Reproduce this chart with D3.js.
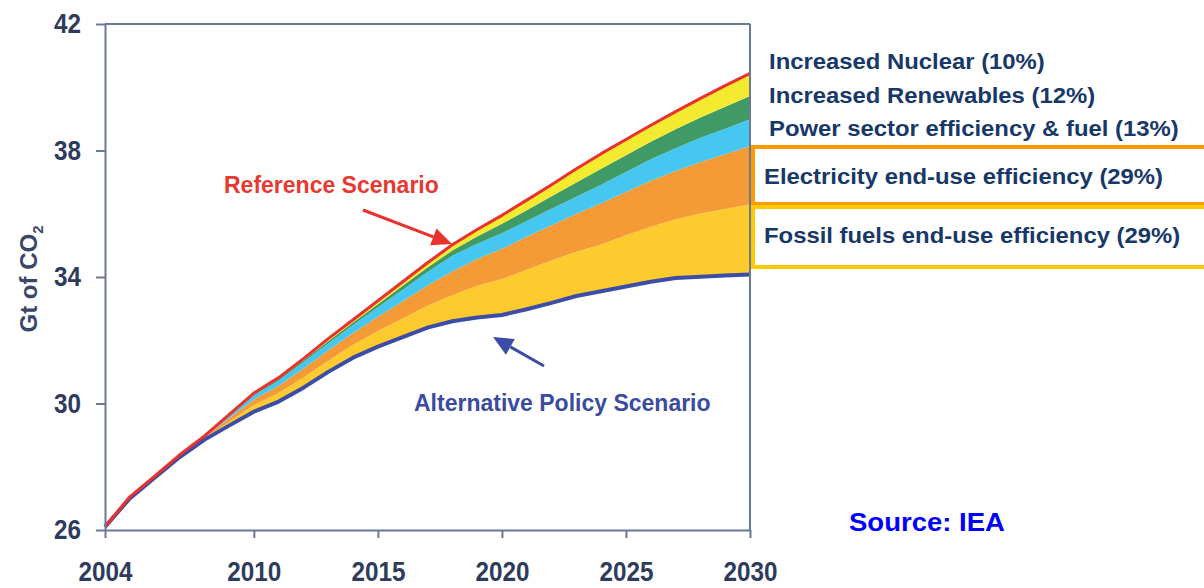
<!DOCTYPE html>
<html><head><meta charset="utf-8">
<script src="https://cdn.jsdelivr.net/npm/d3@7"></script>
<style>body{margin:0;background:#fff}</style>
</head><body>
<svg id="c" width="1204" height="588"></svg>
<script>
// ---- data (Gt CO2) ----
const years = [2004,2005,2006,2007,2008,2009,2010,2011,2012,2013,2014,2015,2016,2017,2018,2019,2020,2021,2022,2023,2024,2025,2026,2027,2028,2029,2030];
const referenceScenario = [26.1,27.05,27.7,28.37,28.97,29.65,30.33,30.82,31.42,32.05,32.65,33.25,33.85,34.45,35.02,35.5,35.95,36.43,36.92,37.42,37.9,38.35,38.8,39.23,39.65,40.05,40.44];
// savings wedges (reduction versus reference)
const increasedNuclear    = [0,0,0,0,0.01,0.02,0.03,0.04,0.05,0.08,0.09,0.11,0.13,0.15,0.18,0.22,0.27,0.32,0.37,0.43,0.48,0.50,0.52,0.56,0.61,0.67,0.72];
const increasedRenewables = [0,0,0,0.01,0.01,0.02,0.04,0.05,0.06,0.07,0.08,0.10,0.12,0.14,0.17,0.23,0.30,0.34,0.39,0.45,0.50,0.53,0.56,0.60,0.64,0.69,0.73];
const powerSector         = [0,0.01,0.01,0.01,0.02,0.08,0.13,0.17,0.20,0.22,0.25,0.30,0.37,0.43,0.50,0.48,0.49,0.50,0.52,0.54,0.59,0.63,0.68,0.72,0.76,0.81,0.85];
const electricityEndUse   = [0,0.02,0.02,0.02,0.04,0.11,0.18,0.23,0.29,0.33,0.37,0.45,0.54,0.64,0.75,0.85,0.95,1.04,1.12,1.20,1.30,1.37,1.45,1.52,1.63,1.73,1.84];
const fossilEndUse        = [0,0.02,0.02,0.03,0.04,0.12,0.21,0.27,0.32,0.35,0.41,0.49,0.59,0.69,0.82,1.00,1.14,1.25,1.34,1.40,1.48,1.62,1.74,1.86,2.00,2.10,2.22];

const yTicks = [26,30,34,38,42];
const xTicks = [2004,2010,2015,2020,2025,2030];
const wedgeNames  = ["fossil","electricity","power","renewables","nuclear"];
const wedgeColors = ["#FDCB2D","#F49B37","#45C7F1","#3F9A66","#F4EA2F"];
const legendLabels = ["Increased Nuclear (10%)","Increased Renewables (12%)","Power sector efficiency & fuel (13%)"];
const boxedLabels  = ["Electricity end-use efficiency (29%)","Fossil fuels end-use efficiency (29%)"];
const boxColors    = ["#FF9A00","#FFC900"];

// ---- stacked rows: base = Alternative Policy Scenario ----
const rows = years.map((yr,i) => {
  const total = increasedNuclear[i]+increasedRenewables[i]+powerSector[i]+electricityEndUse[i]+fossilEndUse[i];
  return {year: yr, base: referenceScenario[i]-total,
    fossil: fossilEndUse[i], electricity: electricityEndUse[i], power: powerSector[i],
    renewables: increasedRenewables[i], nuclear: increasedNuclear[i], ref: referenceScenario[i]};
});
const stack = d3.stack().keys(["base", ...wedgeNames])(rows);

const svg = d3.select("#c");
const x = d3.scaleLinear().domain([2004,2030]).range([105,750]);
const y = d3.scaleLinear().domain([26,42]).range([530,24]);
const axisColor = "#6B7896", tickText = "#2E3B5C";
const sans = "'Liberation Sans',Arial,Helvetica,sans-serif";

svg.append("rect").attr("width",1204).attr("height",588).attr("fill","#fff");

// wedges
const area = d3.area().x(d => x(d.data.year)).y0(d => y(d[0])).y1(d => y(d[1]));
svg.append("g").selectAll("path").data(stack.slice(1)).join("path")
  .attr("d", area).attr("fill", (d,i) => wedgeColors[i]);

// lines
const altLine = d3.line().x(d => x(d.year)).y(d => y(d.base));
const refLine = d3.line().x(d => x(d.year)).y(d => y(d.ref));
svg.append("path").attr("d", altLine(rows)).attr("fill","none").attr("stroke","#3C4DA7").attr("stroke-width",4).attr("stroke-linejoin","round");
svg.append("path").attr("d", refLine(rows)).attr("fill","none").attr("stroke","#E8322E").attr("stroke-width",3).attr("stroke-linejoin","round");

// axes
const gy = svg.append("g").attr("transform",`translate(${x(2004)},0)`)
  .call(d3.axisLeft(y).tickValues(yTicks).tickSize(9).tickSizeOuter(0).tickPadding(15));
const gx = svg.append("g").attr("transform",`translate(0,${y(26)})`)
  .call(d3.axisBottom(x).tickValues(xTicks).tickSize(8).tickSizeOuter(0).tickPadding(23).tickFormat(d3.format("d")));
[gy,gx].forEach(g => {
  g.selectAll("path,line").attr("stroke",axisColor).attr("stroke-width",2);
  g.selectAll("text").attr("fill",tickText).attr("font-family",sans).attr("font-weight","bold").attr("font-size",28)
    .attr("textLength", function(){ return this.textContent.length*13.5; }).attr("lengthAdjust","spacingAndGlyphs");
});
// top and right frame
svg.append("line").attr("x1",x(2004)).attr("x2",x(2030)).attr("y1",y(42)).attr("y2",y(42)).attr("stroke",axisColor).attr("stroke-width",2);
svg.append("line").attr("x1",x(2030)).attr("x2",x(2030)).attr("y1",y(42)).attr("y2",y(26)).attr("stroke",axisColor).attr("stroke-width",2);

// y label
const yl = svg.append("text").attr("transform","translate(37,279) rotate(-90)").attr("text-anchor","middle")
  .attr("font-family",sans).attr("font-weight","bold").attr("font-size",24).attr("fill","#3A4868");
yl.append("tspan").text("Gt of CO");
yl.append("tspan").text("2").attr("font-size",15).attr("dy",6);

// legend labels
const navy = "#173868";
legendLabels.forEach((t,i) => {
  svg.append("text").attr("transform",`translate(769,${69+i*33.5}) scale(1.085,1)`)
    .attr("font-family",sans).attr("font-weight","bold").attr("font-size",22).attr("fill",navy).text(t);
});
const boxTop = [147,207], boxH = [57,60];
boxedLabels.forEach((t,i) => {
  svg.append("rect").attr("x",753).attr("y",boxTop[i]).attr("width",470).attr("height",boxH[i])
    .attr("fill","#fff").attr("stroke",boxColors[i]).attr("stroke-width",4);
});
boxedLabels.forEach((t,i) => {
  svg.append("text").attr("transform",`translate(764,${[184,243][i]}) scale(1.085,1)`)
    .attr("font-family",sans).attr("font-weight","bold").attr("font-size",22).attr("fill",navy).text(t);
});

// annotations
function arrow(x1,y1,x2,y2,color,w){
  const a = Math.atan2(y2-y1,x2-x1), L = 20, W = 9;
  const bx = x2 - L*Math.cos(a), by = y2 - L*Math.sin(a);
  svg.append("line").attr("x1",x1).attr("y1",y1).attr("x2",bx).attr("y2",by).attr("stroke",color).attr("stroke-width",w);
  const p = [[x2,y2],[bx + W*Math.sin(a), by - W*Math.cos(a)],[bx - W*Math.sin(a), by + W*Math.cos(a)]];
  svg.append("path").attr("d","M"+p.map(q=>q.join(",")).join("L")+"Z").attr("fill",color);
}
svg.append("text").attr("x",224).attr("y",193).attr("font-family",sans).attr("font-weight","bold").attr("font-size",23).attr("fill","#E8392F").text("Reference Scenario");
arrow(363,210,452,244,"#E8322E",3);
svg.append("text").attr("x",414).attr("y",411).attr("font-family",sans).attr("font-weight","bold").attr("font-size",23).attr("fill","#3A4BA0").text("Alternative Policy Scenario");
arrow(544,366,493,337,"#3C4DA7",3);

svg.append("text").attr("x",849).attr("y",531).attr("font-family",sans).attr("font-weight","bold").attr("font-size",25).attr("fill","#0000FF")
  .attr("textLength",156).attr("lengthAdjust","spacingAndGlyphs").text("Source: IEA");
</script>
</body></html>
